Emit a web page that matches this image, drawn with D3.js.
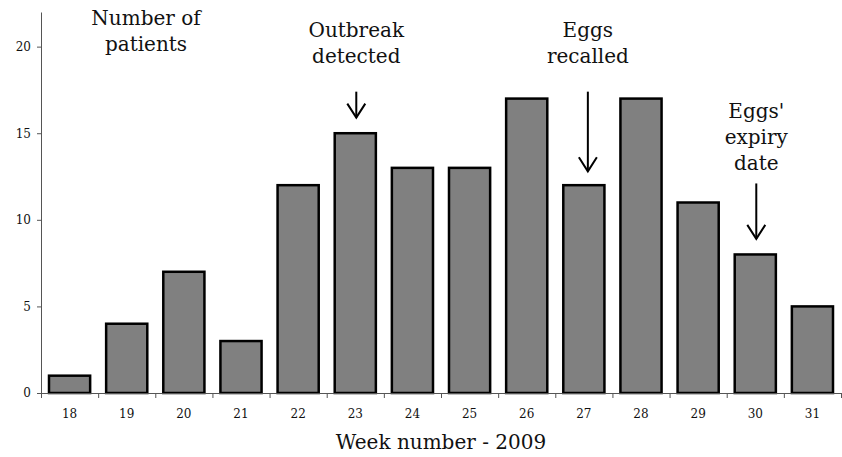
<!DOCTYPE html>
<html lang="en">
<head>
  <meta charset="UTF-8">
  <title>Number of patients per week - 2009</title>
  <script src="https://d3js.org/d3.v7.min.js"></script>
  <style>
    body { margin: 0; background: #fff; }
    svg text { font-family: 'DejaVu Serif', serif; fill: #111; }
    .axis path, .axis line { stroke: #555; }
    .bar { fill: #808080; stroke: #000; stroke-width: 2.5px; }
    .arrow { stroke: #000; stroke-width: 2px; fill: none; }
  </style>
</head>
<body>
  <svg id="chart" width="842" height="457"></svg>

  <script>
    // weeks and patient counts
    const weeks = ["18", "19", "20", "21", "22", "23", "24", "25", "26", "27", "28", "29", "30", "31"];
    const patients = [1, 4, 7, 3, 12, 15, 13, 13, 17, 12, 17, 11, 8, 5];
    const yTicks = [0, 5, 10, 15, 20];

    // annotations: week, text lines, arrow from/to (in patients)
    const noteWeeks = ["23", "27", "30"];
    const noteLines = [["Outbreak", "detected"], ["Eggs", "recalled"], ["Eggs'", "expiry", "date"]];
    const arrowFrom = [17.4, 17.4, 12.1];
    const arrowTo = [15.9, 12.8, 8.9];

    const svg = d3.select("#chart");
    const plotLeft = 41, plotRight = 841, plotBottom = 393, plotTop = 12;
    const fontBig = "20px", lineGap = 26;

    const x = d3.scaleBand()
      .domain(weeks)
      .range([plotLeft, plotRight])
      .paddingInner(0.28)
      .paddingOuter(0.14);

    const y = d3.scaleLinear()
      .domain([0, 22])
      .range([plotBottom, plotTop]);

    // bars
    svg.selectAll(".bar")
      .data(weeks)
      .enter().append("rect")
      .attr("class", "bar")
      .attr("x", d => x(d))
      .attr("width", x.bandwidth())
      .attr("y", (d, i) => y(patients[i]))
      .attr("height", (d, i) => plotBottom - y(patients[i]));

    // y axis
    const yAxis = svg.append("g")
      .attr("class", "axis")
      .attr("transform", `translate(${plotLeft},0)`)
      .call(d3.axisLeft(y).tickValues(yTicks).tickSize(4).tickPadding(6).tickSizeOuter(0));
    yAxis.selectAll("text").style("font-size", "12px");

    // x axis: ticks between the bars, labels centred on them
    const step = x.step();
    const boundaries = d3.range(weeks.length + 1).map(i => plotLeft + i * step);
    const xg = svg.append("g").attr("class", "axis");
    xg.append("line")
      .attr("x1", plotLeft).attr("x2", plotRight + 1)
      .attr("y1", plotBottom + 0.5).attr("y2", plotBottom + 0.5);
    xg.selectAll(".tick")
      .data(boundaries)
      .enter().append("line")
      .attr("x1", d => d + 0.5).attr("x2", d => d + 0.5)
      .attr("y1", plotBottom).attr("y2", plotBottom + 5);
    xg.selectAll(".lbl")
      .data(weeks)
      .enter().append("text")
      .attr("x", d => x(d) + x.bandwidth() / 2)
      .attr("y", plotBottom + 25)
      .attr("text-anchor", "middle")
      .style("font-size", "12px")
      .text(d => d);

    // axis titles
    svg.append("text")
      .attr("x", 441).attr("y", 449)
      .attr("text-anchor", "middle")
      .style("font-size", fontBig)
      .text("Week number - 2009");

    const yTitle = svg.append("text")
      .attr("text-anchor", "middle")
      .style("font-size", fontBig);
    yTitle.append("tspan").attr("x", 146).attr("y", 25).text("Number of");
    yTitle.append("tspan").attr("x", 146).attr("y", 25 + lineGap).text("patients");

    // annotations (baseline of first text line)
    const noteTextY = [37, 37, 118];
    noteWeeks.forEach((w, i) => {
      const cx = x(w) + x.bandwidth() / 2 + (i === 1 ? 4 : 1);
      const t = svg.append("text")
        .attr("text-anchor", "middle")
        .style("font-size", fontBig);
      noteLines[i].forEach((s, j) => {
        t.append("tspan")
          .attr("x", cx)
          .attr("y", noteTextY[i] + j * lineGap)
          .text(s);
      });

      const y0 = y(arrowFrom[i]), y1 = y(arrowTo[i]);
      svg.append("line")
        .attr("class", "arrow")
        .attr("x1", cx).attr("x2", cx)
        .attr("y1", y0).attr("y2", y1);
      svg.append("path")
        .attr("class", "arrow")
        .attr("d", `M${cx - 9},${y1 - 14}L${cx},${y1}L${cx + 9},${y1 - 14}`);
    });
  </script>
</body>
</html>
